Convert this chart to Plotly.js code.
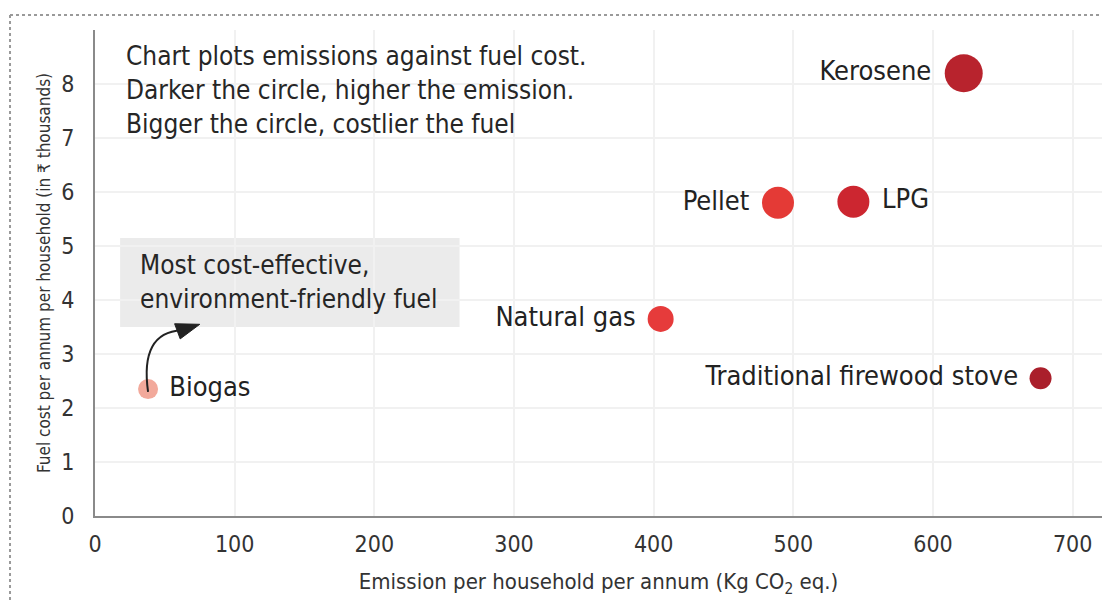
<!DOCTYPE html>
<html>
<head>
<meta charset="utf-8">
<script src="https://cdn.plot.ly/plotly-3.0.1.min.js"></script>
<style>
html,body{margin:0;padding:0;background:#fff;}
#chart{width:1102px;height:603px;}
</style>
</head>
<body>
<div id="chart"></div>
<script>
// Data
const fuels = ["Biogas", "Natural gas", "Pellet", "LPG", "Kerosene", "Traditional firewood stove"];
const emission = [38, 405, 489, 543, 622, 677];      // Kg CO2 eq. per household per annum
const fuelCost = [2.35, 3.65, 5.8, 5.82, 8.2, 2.55];  // ₹ thousands per household per annum
const labelSide = ["middle right", "middle left", "middle left", "middle right", "middle left", "middle left"];
const markerColors = ["#f2a99b", "#e63b3b", "#e43a36", "#cc2630", "#b8232d", "#aa1f2b"];
const markerSizes = [20, 26, 32, 32, 38, 22];
const xTicks = [0, 100, 200, 300, 400, 500, 600, 700];
const yTicks = [0, 1, 2, 3, 4, 5, 6, 7, 8];

const FONT = "DejaVu Sans Condensed, DejaVu Sans, sans-serif";

const trace = {
  type: "scatter",
  mode: "markers+text",
  x: emission,
  y: fuelCost,
  text: fuels.map(f => " " + f + " "),
  textposition: labelSide,
  textfont: {family: FONT, size: 27, color: "#222"},
  marker: {color: markerColors, size: markerSizes, sizemode: "diameter", opacity: 1, line: {width: 0}},
  hoverinfo: "x+y+text",
  cliponaxis: false,
  showlegend: false
};

const layout = {
  width: 1102,
  height: 603,
  margin: {l: 95, r: 0, t: 30, b: 87},
  paper_bgcolor: "#ffffff",
  plot_bgcolor: "#ffffff",
  font: {family: FONT, color: "#333"},
  xaxis: {
    range: [0, 721],
    tickvals: xTicks,
    ticktext: xTicks.map(String),
    tickfont: {family: FONT, size: 23, color: "#333"},
    showgrid: true,
    gridcolor: "#f1f1f1",
    gridwidth: 2,
    zeroline: false,
    showline: true,
    linecolor: "#8a8a8a",
    linewidth: 2,
    ticks: "",
    ticklabelstandoff: 6,
    title: {text: "Emission per household per annum (Kg CO<sub>2</sub> eq.)", font: {family: FONT, size: 22, color: "#333"}, standoff: 18}
  },
  yaxis: {
    range: [0, 9],
    tickvals: yTicks,
    ticktext: yTicks.map(String),
    tickfont: {family: FONT, size: 23, color: "#333"},
    showgrid: true,
    gridcolor: "#f1f1f1",
    gridwidth: 2,
    zeroline: false,
    showline: true,
    linecolor: "#8a8a8a",
    linewidth: 2,
    ticks: "",
    ticklabelstandoff: 14,
    title: {text: "Fuel cost per annum per household (in ₹ thousands)", font: {family: FONT, size: 17, color: "#333"}, standoff: 6}
  },
  shapes: [
    // dotted frame (top and left)
    {type: "line", xref: "paper", yref: "paper", x0: -0.0844, x1: 1.01, y0: 1.0309, y1: 1.0309, line: {color: "#9a9a9a", width: 2, dash: "dot"}},
    {type: "line", xref: "paper", yref: "paper", x0: -0.0844, x1: -0.0844, y0: 1.0309, y1: -0.2, line: {color: "#9a9a9a", width: 2, dash: "dot"}},
    // grey callout box
    {type: "rect", xref: "x", yref: "y", x0: 18, x1: 261, y0: 3.5, y1: 5.15, fillcolor: "#ebebeb", line: {width: 0}, layer: "below"},
    // curved arrow from Biogas to the box
    {type: "path", xref: "x", yref: "y", path: "M 38,2.3 Q 32,3.4 62,3.44", line: {color: "#222", width: 2}},
    {type: "path", xref: "x", yref: "y", path: "M 75,3.55 L 57,3.56 L 61,3.28 Z", fillcolor: "#222", line: {color: "#222", width: 1}}
  ],
  annotations: [
    {xref: "paper", yref: "paper", x: 0.029, y: 0.981, xanchor: "left", yanchor: "top", align: "left",
     showarrow: false, font: {family: FONT, size: 26, color: "#262626"},
     text: "Chart plots emissions against fuel cost.<br>Darker the circle, higher the emission.<br>Bigger the circle, costlier the fuel"},
    {xref: "x", yref: "y", x: 31, y: 4.34, xanchor: "left", yanchor: "middle", align: "left",
     showarrow: false, font: {family: FONT, size: 26, color: "#262626"},
     text: "Most cost-effective,<br>environment-friendly fuel"}
  ]
};

Plotly.newPlot("chart", [trace], layout, {displayModeBar: false, staticPlot: true});
</script>
</body>
</html>
